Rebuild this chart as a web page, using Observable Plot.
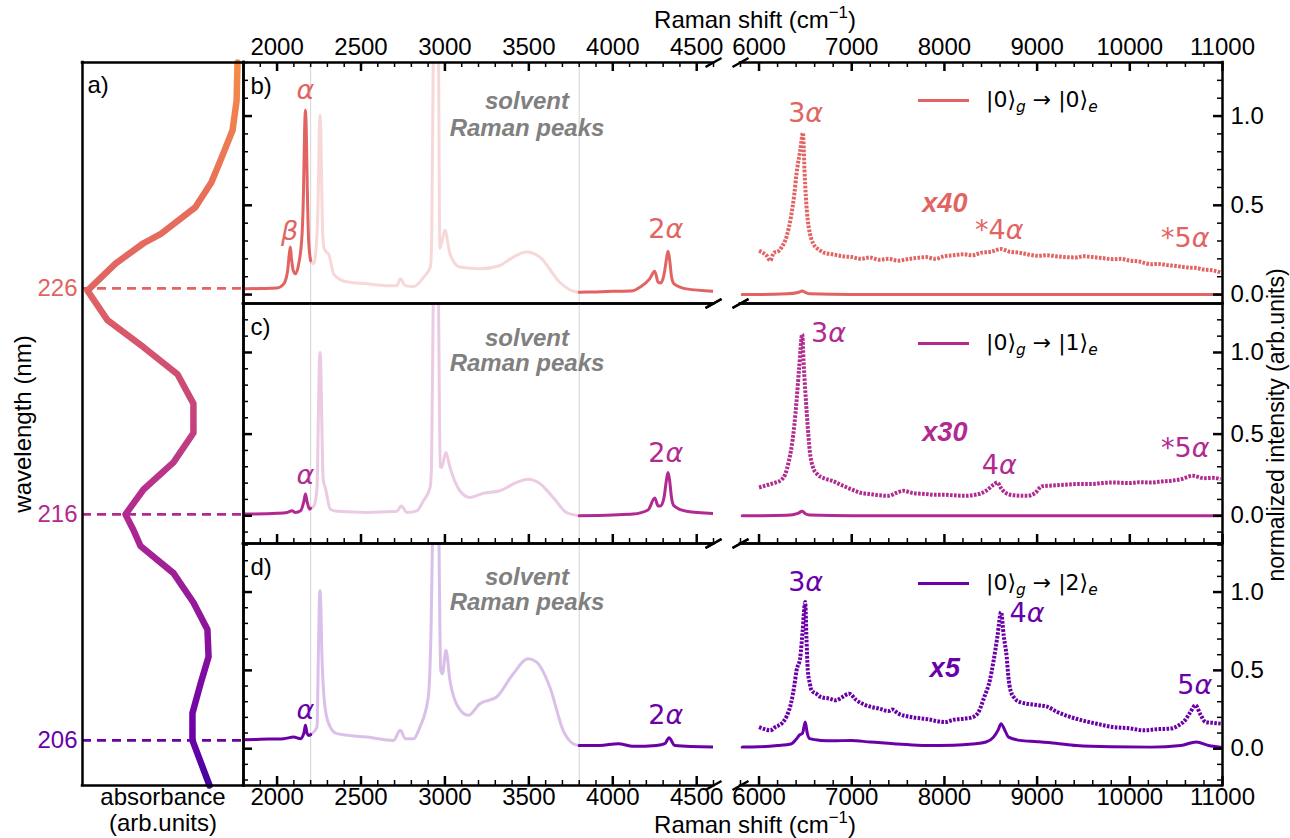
<!DOCTYPE html>
<html><head><meta charset="utf-8">
<script src="https://cdn.jsdelivr.net/npm/d3@7"></script>
<script src="https://cdn.jsdelivr.net/npm/@observablehq/plot@0.6"></script>
<style>
body{margin:0;background:#fff;}
#fig{position:relative;width:1290px;height:838px;overflow:hidden;font-family:"Liberation Sans",Arial,sans-serif;background:#fff;}
#fig svg{position:absolute;}
.ttl{position:absolute;font-size:24px;white-space:nowrap;transform:translate(-50%,-50%);line-height:1;color:#000;}
.leg{position:absolute;display:flex;align-items:center;font-family:"DejaVu Sans",sans-serif;font-size:22px;white-space:nowrap;transform:translateY(-50%);line-height:1;}
.leg sub{font-size:0.7em;font-style:italic;line-height:0;vertical-align:-0.35em;}
</style></head><body><div id="fig"></div><script>
// ================= DATA =================
const panelColors = ["#e16462", "#b12a90", "#6a00a8"];
const panelNames = ["b)", "c)", "d)"];
const wavelengthTicks = [226, 216, 206];
const scaleTags = ["x40", "x30", "x5"];
const legendStates = ["0", "1", "2"];
const solventRange = [2200, 3800];
const xTicksLeft = [2000, 2500, 3000, 3500, 4000, 4500];
const xTicksRight = [6000, 7000, 8000, 9000, 10000, 11000];
const yTicks = [0, 0.5, 1.0];

// absorbance curve: [wavelength nm, absorbance (arb.)]
const absorbance = [[236.0,0.963],[234.3,0.957],[233.0,0.932],[232.0,0.876],[230.7,0.801],[229.6,0.702],[228.4,0.484],[228.0,0.379],[227.1,0.205],[225.9,0.031],[224.6,0.155],[223.4,0.379],[222.2,0.590],[220.9,0.689],[219.6,0.689],[218.3,0.565],[217.1,0.379],[216.0,0.267],[215.3,0.317],[214.6,0.360],[213.4,0.565],[212.1,0.689],[210.9,0.776],[209.7,0.783],[208.5,0.733],[207.2,0.683],[206.0,0.683],[204.0,0.789]];
const gradWl = [236, 230, 226, 216, 206, 204];
const gradT  = [0.72, 0.63, 0.6, 0.4, 0.2, 0.1];

// Raman spectra, low shift range: [shift cm-1, normalized intensity]
const specB_low = [[1810,0.032],[1900,0.034],[2000,0.037],[2040,0.06],[2063,0.135],[2072,0.22],[2079,0.266],[2086,0.2],[2095,0.14],[2109,0.116],[2129,0.172],[2149,0.34],[2158,0.6],[2164,0.92],[2169,1.034],[2174,0.92],[2180,0.6],[2188,0.3],[2200,0.19],[2218,0.172],[2238,0.34],[2246,0.6],[2251,0.9],[2256,1.005],[2261,0.9],[2266,0.6],[2272,0.34],[2280,0.26],[2292,0.24],[2308,0.225],[2337,0.116],[2400,0.075],[2536,0.06],[2650,0.05],[2714,0.05],[2734,0.088],[2764,0.05],[2813,0.045],[2873,0.097],[2913,0.154],[2921,0.3],[2930,1.3],[2946,3.0],[2962,1.3],[2970,0.26],[3000,0.36],[3030,0.228],[3089,0.154],[3208,0.144],[3327,0.163],[3407,0.21],[3486,0.238],[3565,0.21],[3684,0.069],[3764,0.019],[3800,0.013],[3900,0.015],[4000,0.018],[4121,0.022],[4161,0.041],[4220,0.088],[4250,0.131],[4270,0.07],[4285,0.065],[4305,0.11],[4320,0.2],[4329,0.243],[4338,0.2],[4350,0.1],[4365,0.06],[4439,0.032],[4597,0.019]];
const specC_low = [[1810,0.01],[2000,0.015],[2060,0.02],[2089,0.03],[2110,0.02],[2140,0.03],[2160,0.09],[2169,0.133],[2178,0.09],[2194,0.04],[2200,0.045],[2220,0.06],[2238,0.17],[2246,0.6],[2251,0.9],[2256,1.0],[2261,0.9],[2266,0.6],[2275,0.22],[2288,0.17],[2317,0.04],[2357,0.027],[2536,0.02],[2714,0.027],[2740,0.06],[2774,0.02],[2833,0.03],[2871,0.09],[2911,0.17],[2920,0.3],[2930,1.3],[2946,3.0],[2962,1.3],[2972,0.3],[2980,0.296],[3006,0.388],[3030,0.296],[3089,0.153],[3149,0.112],[3228,0.137],[3327,0.153],[3427,0.204],[3496,0.224],[3565,0.198],[3645,0.112],[3724,0.02],[3800,0.0],[4000,0.005],[4121,0.01],[4210,0.035],[4250,0.108],[4270,0.06],[4285,0.06],[4305,0.11],[4320,0.22],[4329,0.265],[4338,0.22],[4350,0.11],[4365,0.06],[4439,0.027],[4597,0.014]];
const specD_low = [[1810,0.057],[1900,0.06],[2040,0.064],[2099,0.074],[2139,0.064],[2160,0.1],[2169,0.149],[2178,0.1],[2188,0.085],[2200,0.09],[2208,0.096],[2238,0.138],[2246,0.6],[2251,0.9],[2256,1.01],[2261,0.9],[2267,0.6],[2288,0.245],[2317,0.138],[2357,0.096],[2536,0.074],[2694,0.053],[2734,0.117],[2764,0.064],[2813,0.064],[2851,0.138],[2901,0.33],[2918,0.8],[2930,1.6],[2946,3.0],[2962,1.6],[2975,0.5],[2985,0.479],[3006,0.628],[3030,0.436],[3079,0.266],[3139,0.213],[3208,0.287],[3308,0.33],[3407,0.479],[3496,0.574],[3546,0.553],[3625,0.394],[3704,0.117],[3764,0.032],[3800,0.021],[3923,0.021],[4032,0.032],[4121,0.015],[4260,0.021],[4310,0.032],[4335,0.07],[4369,0.021],[4597,0.011]];

// Raman spectra, high shift range (as measured)
const specB_high = [[5818,0.0],[6000,0.0],[6300,0.004],[6420,0.012],[6466,0.02],[6500,0.012],[6547,0.004],[7000,0.0],[9000,0.0],[10980,0.0]];
const specC_high = [[5818,0.0],[6000,0.0],[6300,0.003],[6420,0.015],[6466,0.027],[6500,0.012],[6547,0.004],[7000,0.0],[9000,0.0],[10980,0.0]];
const specD_high = [[5818,0.01],[6000,0.012],[6200,0.02],[6344,0.03],[6400,0.06],[6433,0.085],[6470,0.1],[6498,0.17],[6520,0.1],[6547,0.064],[6668,0.053],[6800,0.05],[6992,0.053],[7200,0.042],[7500,0.03],[7802,0.02],[8100,0.022],[8300,0.03],[8449,0.043],[8530,0.074],[8580,0.12],[8611,0.16],[8650,0.12],[8692,0.074],[8814,0.053],[9000,0.045],[9200,0.035],[9421,0.02],[9800,0.012],[10231,0.01],[10550,0.02],[10717,0.043],[10850,0.02],[10980,0.01]];

// Raman spectra, high shift range, magnified (x40, x30, x5)
const specB_mag = [[6000,0.245],[6040,0.235],[6080,0.22],[6121,0.19],[6160,0.235],[6200,0.24],[6243,0.264],[6300,0.33],[6344,0.434],[6380,0.56],[6405,0.68],[6445,0.81],[6474,0.906],[6490,0.7],[6505,0.55],[6526,0.415],[6550,0.34],[6587,0.283],[6650,0.25],[6700,0.235],[6789,0.226],[6900,0.215],[7000,0.21],[7100,0.2],[7194,0.208],[7300,0.195],[7400,0.2],[7500,0.19],[7599,0.198],[7700,0.205],[7800,0.21],[7900,0.2],[8000,0.215],[8100,0.22],[8206,0.226],[8300,0.22],[8400,0.235],[8500,0.24],[8611,0.255],[8700,0.24],[8800,0.235],[8900,0.225],[9016,0.217],[9100,0.22],[9200,0.215],[9300,0.21],[9421,0.208],[9500,0.215],[9600,0.21],[9700,0.205],[9826,0.198],[9900,0.2],[10000,0.19],[10100,0.185],[10231,0.17],[10300,0.172],[10400,0.165],[10500,0.16],[10636,0.151],[10700,0.15],[10800,0.14],[10900,0.135],[10980,0.123]];
const specC_mag = [[6000,0.173],[6100,0.19],[6182,0.204],[6240,0.22],[6283,0.255],[6320,0.33],[6344,0.398],[6380,0.55],[6405,0.704],[6433,0.908],[6466,1.112],[6480,0.95],[6495,0.8],[6506,0.704],[6525,0.55],[6547,0.398],[6580,0.3],[6628,0.255],[6700,0.23],[6789,0.214],[6900,0.185],[6992,0.163],[7100,0.14],[7194,0.133],[7300,0.125],[7397,0.122],[7480,0.14],[7559,0.153],[7650,0.14],[7802,0.133],[7900,0.128],[8000,0.128],[8100,0.125],[8206,0.122],[8350,0.13],[8449,0.153],[8530,0.19],[8571,0.204],[8610,0.17],[8652,0.143],[8750,0.125],[8895,0.122],[8980,0.14],[9050,0.18],[9138,0.184],[9300,0.19],[9421,0.194],[9600,0.195],[9700,0.2],[9826,0.204],[10000,0.2],[10100,0.205],[10231,0.204],[10350,0.21],[10450,0.215],[10560,0.225],[10676,0.245],[10800,0.23],[10900,0.232],[10980,0.224]];
const specD_mag = [[6000,0.138],[6060,0.125],[6121,0.117],[6180,0.14],[6243,0.16],[6300,0.21],[6344,0.287],[6380,0.4],[6405,0.5],[6445,0.585],[6470,0.75],[6498,0.936],[6512,0.7],[6526,0.5],[6547,0.42],[6567,0.372],[6620,0.35],[6668,0.33],[6760,0.32],[6830,0.309],[6900,0.33],[6972,0.351],[7050,0.31],[7154,0.277],[7300,0.255],[7400,0.24],[7437,0.25],[7500,0.225],[7640,0.202],[7800,0.19],[8004,0.17],[8100,0.185],[8206,0.191],[8300,0.2],[8368,0.234],[8430,0.33],[8490,0.436],[8530,0.56],[8571,0.713],[8611,0.872],[8640,0.72],[8672,0.585],[8690,0.46],[8713,0.372],[8760,0.32],[8814,0.298],[9016,0.277],[9100,0.27],[9219,0.234],[9421,0.191],[9600,0.165],[9826,0.138],[10000,0.13],[10150,0.117],[10300,0.125],[10433,0.128],[10530,0.15],[10595,0.181],[10650,0.23],[10709,0.277],[10760,0.22],[10818,0.17],[10900,0.165],[10980,0.16]];

// peak annotations (shift, intensity, label)
const peaksB_low  = [[2169,1.146,"α"],[2074,0.354,"β"],[4316,0.365,"2α"]];
const peaksC_low  = [[2169,0.245,"α"],[4316,0.38,"2α"]];
const peaksD_low  = [[2169,0.244,"α"],[4316,0.2125,"2α"]];
const peaksB_high = [[6503,1.017,"3α"],[8591,0.36,"*4α"],[10598,0.315,"*5α"]];
const peaksC_high = [[6750,1.117,"3α"],[8591,0.307,"4α"],[10598,0.411,"*5α"]];
const peaksD_high = [[6503,1.063,"3α"],[8892,0.863,"4α"],[10701,0.404,"5α"]];
const tagPositions = [[8005,0.511],[8005,0.511],[8005,0.512]];
const solventLabelPos = [[3489,1.08,0.934],[3489,1.086,0.933],[3489,1.095,0.936]];

const specLow = [specB_low, specC_low, specD_low];
const specHigh = [specB_high, specC_high, specD_high];
const specMag = [specB_mag, specC_mag, specD_mag];
const peaksLow = [peaksB_low, peaksC_low, peaksD_low];
const peaksHigh = [peaksB_high, peaksC_high, peaksD_high];

// ================= LAYOUT =================
const fig = document.getElementById("fig");
const A = {l: 82, r: 243, t: 62, b: 785};
const rowsY = [[62, 303], [303, 543], [543, 785]];
const colL = [243, 713], colR = [740, 1222];
const xDomL = [1800, 4600], xDomR = [5800, 11000];
const yDoms = [[-0.05, 1.30], [-0.17, 1.30], [-0.235, 1.31]];
const M = 60;
const SANS = "Liberation Sans, Arial, sans-serif";
const FS = 24;
const plotStyle = {background: "transparent", overflow: "visible", maxWidth: "none"};
const T = {fontFamily: SANS, fontSize: FS, lineAnchor: "middle"};

function place(el, left, top) {
  el.style.position = "absolute";
  el.style.left = left + "px";
  el.style.top = top + "px";
  el.style.background = "transparent";
  el.style.overflow = "visible";
  el.style.maxWidth = "none";
  fig.append(el);
}

// ---- panel a ----
(function panelA() {
  const marks = [];
  wavelengthTicks.forEach((wl, i) => {
    marks.push(Plot.ruleY([wl], {y: d => d, stroke: panelColors[i], strokeWidth: 2.8, strokeDasharray: "9,6"}));
    marks.push(Plot.text([wl], {...T, y: d => d, frameAnchor: "left", dx: -5, textAnchor: "end", text: d => String(d), fill: panelColors[i]}));
  });
  marks.push(Plot.line(absorbance, {x: d => d[1], y: d => d[0], stroke: "#010203", strokeWidth: 6.5, curve: "linear"}));
  marks.push(Plot.ruleX([0, 1], {stroke: "black", strokeWidth: 2.5, strokeLinecap: "square"}));
  marks.push(Plot.ruleY([204, 236], {stroke: "black", strokeWidth: 2.5, strokeLinecap: "square"}));
  marks.push(Plot.text(["a)"], {...T, frameAnchor: "top-left", dx: 5, dy: 23, textAnchor: "start", text: d => d}));
  marks.push(Plot.text(["wavelength (nm)"], {...T, frameAnchor: "left", dx: -59, rotate: -90, textAnchor: "middle", text: d => d}));
  marks.push(Plot.text(["absorbance"], {...T, frameAnchor: "bottom", dy: 12, textAnchor: "middle", text: d => d}));
  marks.push(Plot.text(["(arb.units)"], {...T, frameAnchor: "bottom", dy: 38, textAnchor: "middle", text: d => d}));
  const plot = Plot.plot({
    width: A.r + 20, height: 838,
    marginLeft: A.l, marginRight: 20, marginTop: A.t, marginBottom: 838 - A.b,
    x: {domain: [0, 1], axis: null}, y: {domain: [204, 236], axis: null},
    style: plotStyle, marks
  });
  const ys = plot.scale("y");
  const ns = "http://www.w3.org/2000/svg";
  const defs = document.createElementNS(ns, "defs");
  const g = document.createElementNS(ns, "linearGradient");
  g.setAttribute("id", "absGrad");
  g.setAttribute("gradientUnits", "userSpaceOnUse");
  const ya = ys.apply(gradWl[0]), yb = ys.apply(gradWl[gradWl.length - 1]);
  g.setAttribute("x1", 0); g.setAttribute("x2", 0);
  g.setAttribute("y1", ya); g.setAttribute("y2", yb);
  gradWl.forEach((wl, i) => {
    const s = document.createElementNS(ns, "stop");
    s.setAttribute("offset", (ys.apply(wl) - ya) / (yb - ya));
    s.setAttribute("stop-color", d3.interpolatePlasma(gradT[i]));
    g.append(s);
  });
  defs.append(g);
  plot.prepend(defs);
  plot.querySelectorAll('[stroke="#010203"]').forEach(e => e.setAttribute("stroke", "url(#absGrad)"));
  place(plot, 0, 0);
})();

// ---- Raman sub-panels ----
function subPanel(row, side) {
  const [y0, y1] = rowsY[row];
  const [x0, x1] = side === "L" ? colL : colR;
  const pw = x1 - x0, ph = y1 - y0;
  const xd = side === "L" ? xDomL : xDomR;
  const yd = yDoms[row];
  const color = panelColors[row];
  const marks = [];
  const xy = {x: d => d[0], y: d => d[1], curve: "monotone-x"};
  if (side === "L") {
    marks.push(Plot.ruleX(solventRange, {stroke: "#d4d4d4", strokeWidth: 1}));
    const data = specLow[row];
    const seg1 = data.filter(d => d[0] <= solventRange[0]);
    const seg2 = data.filter(d => d[0] >= solventRange[0] && d[0] <= solventRange[1]);
    const seg3 = data.filter(d => d[0] >= solventRange[1]);
    marks.push(Plot.line(seg2, {...xy, stroke: color, strokeOpacity: 0.25, strokeWidth: 3, clip: true}));
    marks.push(Plot.line(seg1, {...xy, stroke: color, strokeWidth: 3, clip: true}));
    marks.push(Plot.line(seg3, {...xy, stroke: color, strokeWidth: 3, clip: true}));
  } else {
    marks.push(Plot.line(specHigh[row], {...xy, stroke: color, strokeWidth: 3}));
    marks.push(Plot.line(specMag[row], {...xy, stroke: color, strokeWidth: 4, strokeDasharray: "2.6,1.4", strokeLinecap: "butt"}));
  }
  // frame borders
  marks.push(Plot.ruleY(yd, {stroke: "black", strokeWidth: 2.5, strokeLinecap: "square"}));
  marks.push(Plot.ruleX([side === "L" ? xd[0] : xd[1]], {stroke: "black", strokeWidth: 2.5, strokeLinecap: "square"}));
  // break marks
  const xb = side === "L" ? xd[1] : xd[0];
  const kx = (xd[1] - xd[0]) / pw, ky = (yd[1] - yd[0]) / ph;
  const slashes = yd.map(yb => ({x1: xb - 8 * kx, y1: yb - 4.5 * ky, x2: xb + 8 * kx, y2: yb + 4.5 * ky}));
  marks.push(Plot.link(slashes, {x1: "x1", y1: "y1", x2: "x2", y2: "y2", stroke: "black", strokeWidth: 2.5}));
  // x ticks
  const xt = side === "L" ? xTicksLeft : xTicksRight;
  const step = side === "L" ? 100 : 200;
  const xMinor = d3.range(xd[0], xd[1] + 1, step).filter(v => !xt.includes(v));
  const atTop = row === 0;
  const ins = len => atTop ? {insetBottom: ph - len} : {insetTop: ph - len};
  marks.push(Plot.tickX(xMinor, {x: d => d, stroke: "black", strokeWidth: 1.5, ...ins(5)}));
  marks.push(Plot.tickX(xt, {x: d => d, stroke: "black", strokeWidth: 2.5, ...ins(9)}));
  if (row === 0) marks.push(Plot.text(xt, {...T, x: d => d, frameAnchor: "top", dy: -15, textAnchor: "middle", text: d => String(d)}));
  if (row === 2) marks.push(Plot.text(xt, {...T, x: d => d, frameAnchor: "bottom", dy: 12, textAnchor: "middle", text: d => String(d)}));
  // y ticks
  const yMinor = d3.range(Math.ceil(yd[0] * 10), Math.floor(yd[1] * 10) + 1).map(k => k / 10).filter(v => !yTicks.some(t => Math.abs(t - v) < 1e-9));
  const yins = len => side === "L" ? {insetRight: pw - len} : {insetLeft: pw - len};
  marks.push(Plot.tickY(yMinor, {y: d => d, stroke: "black", strokeWidth: 1.5, ...yins(5)}));
  marks.push(Plot.tickY(yTicks, {y: d => d, stroke: "black", strokeWidth: 2.5, ...yins(9)}));
  if (side === "R") marks.push(Plot.text(yTicks, {...T, y: d => d, frameAnchor: "right", dx: 8, textAnchor: "start", text: d => d.toFixed(1)}));
  // annotations
  const peaks = side === "L" ? peaksLow[row] : peaksHigh[row];
  marks.push(Plot.text(peaks, {x: d => d[0], y: d => d[1], text: d => d[2], fill: color, fontFamily: "DejaVu Sans, sans-serif", fontSize: 27}));
  if (side === "L") {
    const [sx, sy1, sy2] = solventLabelPos[row];
    marks.push(Plot.text([[sx, sy1, "solvent"], [sx, sy2, "Raman peaks"]], {x: d => d[0], y: d => d[1], text: d => d[2], fill: "#808080", fontWeight: "bold", fontStyle: "italic", fontFamily: SANS, fontSize: 24}));
    marks.push(Plot.text([panelNames[row]], {...T, frameAnchor: "top-left", dx: 7, dy: 24, textAnchor: "start", text: d => d}));
  } else {
    marks.push(Plot.text([tagPositions[row]], {x: d => d[0], y: d => d[1], text: () => scaleTags[row], fill: color, fontWeight: "bold", fontStyle: "italic", fontFamily: SANS, fontSize: 27}));
  }
  const plot = Plot.plot({
    width: pw + 2 * M, height: ph + 2 * M,
    marginLeft: M, marginRight: M, marginTop: M, marginBottom: M,
    x: {domain: xd, axis: null}, y: {domain: yd, axis: null},
    style: plotStyle, marks
  });
  place(plot, x0 - M, y0 - M);
}
for (let r = 0; r < 3; r++) { subPanel(r, "L"); subPanel(r, "R"); }

// ---- titles & legends (HTML) ----
function addDiv(cls, html, left, top, extra) {
  const d = document.createElement("div");
  d.className = cls; d.innerHTML = html;
  d.style.left = left + "px"; d.style.top = top + "px";
  if (extra) Object.assign(d.style, extra);
  fig.append(d);
  return d;
}
const shiftTitle = 'Raman shift (cm<span style="font-size:0.7em;position:relative;top:-0.6em">−1</span>)';
addDiv("ttl", shiftTitle, 755, 20);
addDiv("ttl", shiftTitle, 755, 825);
addDiv("ttl", "normalized intensity (arb.units)", 1276, 425, {transform: "translate(-50%,-50%) rotate(-90deg)", fontSize: "23px"});
const legendY = [100, 343, 583];
legendStates.forEach((s, i) => {
  addDiv("leg", `<span style="display:inline-block;width:51px;height:3px;background:${panelColors[i]};margin-right:17px"></span><span>|0⟩<sub>g</sub> → |${s}⟩<sub>e</sub></span>`, 918, legendY[i]);
});

// italic greek letters (mathtext style)
const ns = "http://www.w3.org/2000/svg";
fig.querySelectorAll("svg text").forEach(el => {
  const s = el.textContent;
  if (!/[αβ]/.test(s) || el.children.length) return;
  el.textContent = "";
  for (const part of s.split(/([αβ])/)) {
    if (!part) continue;
    const ts = document.createElementNS(ns, "tspan");
    if (/[αβ]/.test(part)) ts.setAttribute("font-style", "italic");
    ts.textContent = part;
    el.append(ts);
  }
});
</script></body></html>
